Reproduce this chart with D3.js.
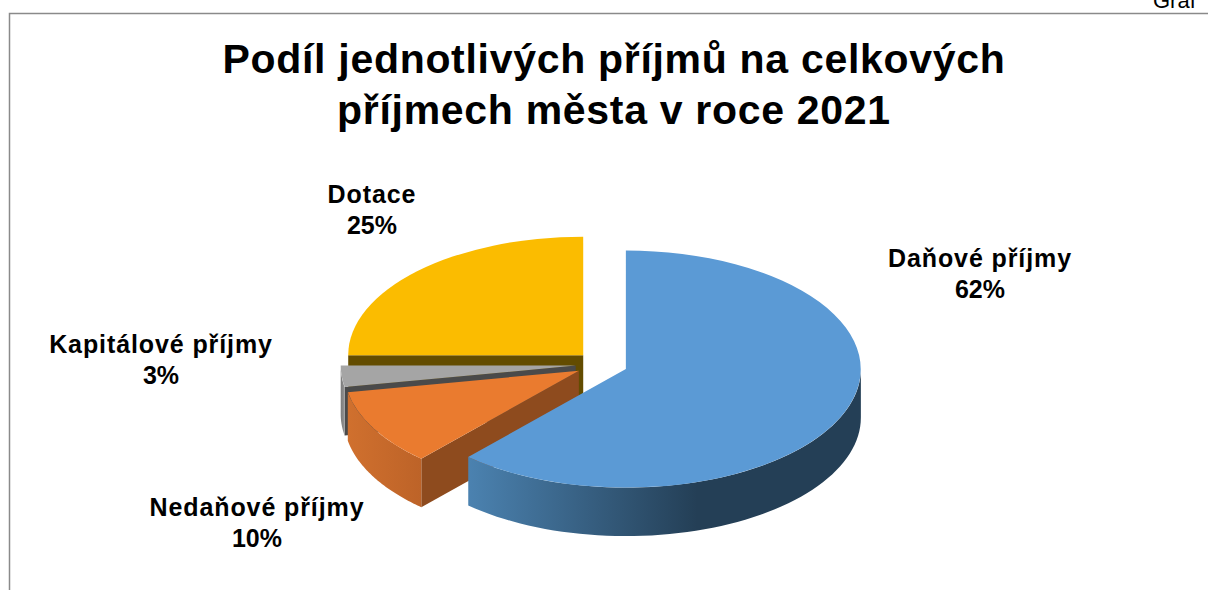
<!DOCTYPE html>
<html lang="cs">
<head>
  <meta charset="utf-8">
  <title>Podíl příjmů</title>
  <script src="https://d3js.org/d3.v7.min.js"></script>
  <style>
    html, body { margin: 0; background: #fff; overflow: hidden; }
    text { font-family: "Liberation Sans", Arial, sans-serif; fill: #000; }
    .title { font-size: 41px; font-weight: bold; text-anchor: middle; letter-spacing: .7px; }
    .label { font-size: 25px; font-weight: bold; text-anchor: middle; }
    .label .name { letter-spacing: .9px; }
  </style>
</head>
<body>
  <svg id="chart" width="1208" height="590"></svg>

  <script>
    "use strict"

    var categories = ["Daňové příjmy", "Nedaňové příjmy", "Kapitálové příjmy", "Dotace"];
    var values = [61.7, 10.4, 2.9, 25];
    var titleLines = ["Podíl jednotlivých příjmů na celkových", "příjmech města v roce 2021"];

    var topColors = ["#5b9ad5", "#ea7b2f", "#a5a5a5", "#fbbc00"];
    var cutColors = ["#243f56", "#8e4b1e", "#4a4a4a", "#634c00"];
    var wallColors = [["#4b82b0", "#243f56"], ["#d0702e", "#bd6328"], ["#7a7a7a", "#959595"], ["#634c00", "#634c00"]];
    var labelSpots = [[980, 267], [257, 516], [161, 353], [372, 203]];

    // geometria da pizza em perspectiva
    var cx = 601.6, cy = 364.4, rx = 235, ry = 118.5, depth = 48.5, explode = 26;

    var svg = d3.select("#chart");
    var defs = svg.append("defs");

    // moldura e o texto cortado no topo
    svg.append("path").attr("d", "M9.5,590V13.5H1208").attr("fill", "none").attr("stroke", "#8a8a8a").attr("stroke-width", 1.5);
    svg.append("text").attr("x", 1153).attr("y", 8).attr("font-size", 22).text("Graf");

    svg.selectAll(".title").data(titleLines).enter().append("text")
      .attr("class", "title")
      .attr("x", 614)
      .attr("y", (d, i) => 73 + i * 51)
      .text(d => d);

    var slices = d3.pie().sort(null)(values);

    // escalas do circulo unitario para pixels, relativas ao centro de cada fatia
    var ux = d3.scaleLinear().domain([-1, 1]).range([-rx, rx]);
    var uy = d3.scaleLinear().domain([-1, 1]).range([-ry, ry]);
    var arc = d3.arc().innerRadius(0).outerRadius(1);
    var line = d3.line();

    function rim(a) { return [ux(Math.sin(a)), uy(-Math.cos(a))]; }

    function apex(s) {
      var mid = (s.startAngle + s.endAngle) / 2;
      return [cx + explode * Math.sin(mid), cy - explode * Math.cos(mid) * ry / rx];
    }

    // parede externa: so a parte virada para a frente (90 a 270 graus)
    function wallPath(s) {
      var a0 = Math.max(s.startAngle, Math.PI / 2), a1 = Math.min(s.endAngle, 3 * Math.PI / 2);
      if (a1 <= a0) return null;
      var top = d3.range(0, 61).map(i => rim(a0 + (a1 - a0) * i / 60));
      var bottom = top.slice().reverse().map(p => [p[0], p[1] + depth]);
      return line(top.concat(bottom)) + "Z";
    }

    // parede do corte no angulo inicial
    function cutPath(s) {
      var p = rim(s.startAngle);
      return line([[0, 0], p, [p[0], p[1] + depth], [0, depth]]) + "Z";
    }

    // desenha de tras para frente
    [3, 2, 1, 0].forEach(function(i) {
      var s = slices[i], c = apex(s);
      var g = svg.append("g").attr("transform", "translate(" + c[0] + "," + c[1] + ")");

      if (i !== 0) {
        g.append("path").attr("d", cutPath(s)).attr("fill", cutColors[i]);
      }

      var d = wallPath(s);
      if (d) {
        var a0 = Math.max(s.startAngle, Math.PI / 2);
        var x0 = rim(s.endAngle > 3 * Math.PI / 2 ? 3 * Math.PI / 2 : s.endAngle)[0];
        var x1 = rim(a0)[0];
        if (i === 0) { x0 = rim(s.endAngle)[0]; x1 = x0 + 229; }
        var grad = defs.append("linearGradient").attr("id", "wall" + i)
          .attr("gradientUnits", "userSpaceOnUse")
          .attr("x1", x0).attr("x2", x1).attr("y1", 0).attr("y2", 0);
        grad.append("stop").attr("offset", 0).attr("stop-color", wallColors[i][0]);
        grad.append("stop").attr("offset", 1).attr("stop-color", wallColors[i][1]);
        g.append("path").attr("d", d).attr("fill", "url(#wall" + i + ")");
      }

      g.append("path")
        .attr("d", arc(s))
        .attr("transform", "scale(" + rx + "," + ry + ")")
        .attr("fill", topColors[i]);
    });

    var labels = svg.selectAll(".label").data(categories).enter().append("text")
      .attr("class", "label")
      .attr("x", (d, i) => labelSpots[i][0])
      .attr("y", (d, i) => labelSpots[i][1]);
    labels.append("tspan").attr("class", "name").text(d => d);
    labels.append("tspan")
      .attr("x", (d, i) => labelSpots[i][0])
      .attr("dy", 31)
      .text((d, i) => Math.round(values[i]) + "%");
  </script>
</body>
</html>
